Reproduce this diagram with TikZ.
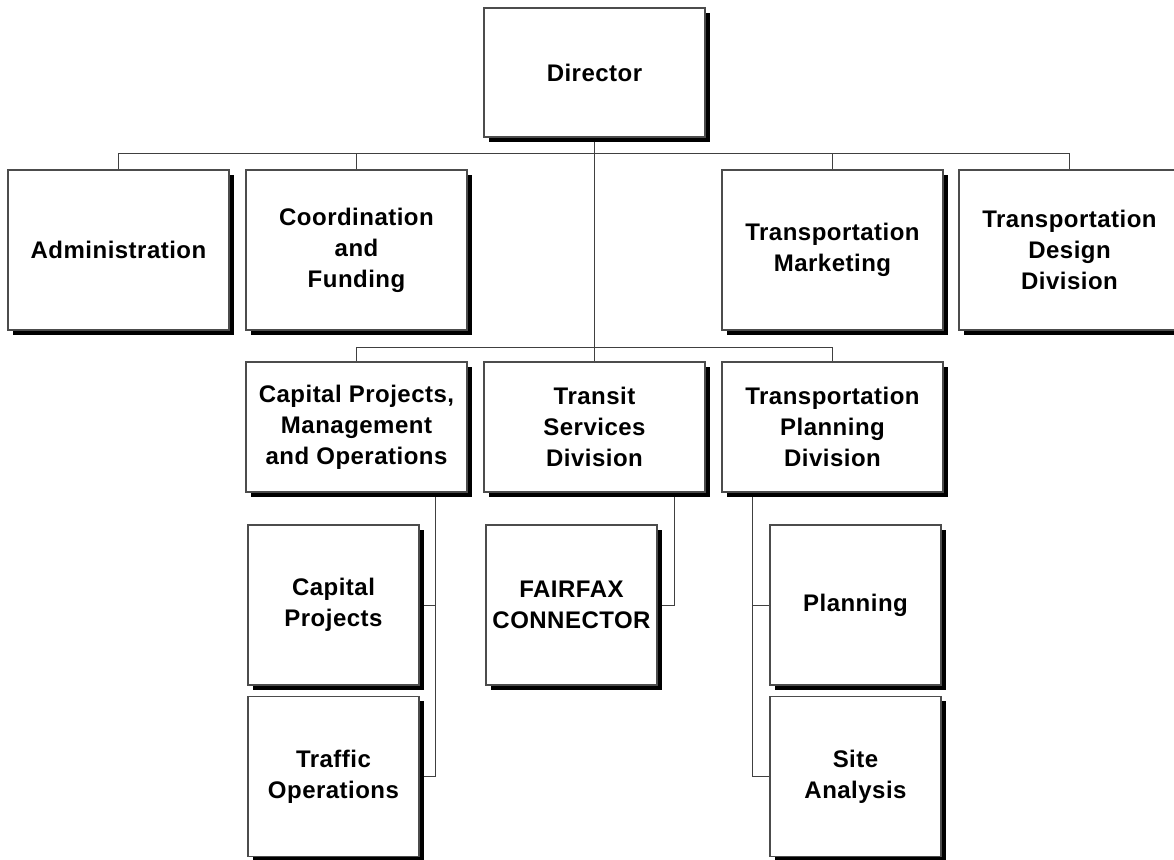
\documentclass[tikz,border=0pt]{standalone}
\usepackage{fontspec}
\setmainfont[LetterSpace=2]{Liberation Sans}
\usetikzlibrary{shadows,backgrounds}

\begin{document}
\begin{tikzpicture}[x=0.5pt,y=-0.5pt,
  box/.style={draw=black!70,fill=white,line width=0.6pt,align=center,
    font=\fontsize{12}{15.5}\selectfont\bfseries,inner sep=2pt,
    minimum width=110.5pt,
    drop shadow={shadow xshift=2.4pt,shadow yshift=-2.4pt,fill=black,opacity=1}},
  sub/.style={box,minimum width=85.5pt,minimum height=80pt},
  link/.style={draw=black!75,line width=0.5pt}]
\useasboundingbox (0,0) rectangle (1174,859);
% top
\node[box,minimum height=64.5pt] (dir) at (594.5,72.5) {Director};
% first row
\node[box,minimum height=80pt] (adm) at (118.5,250) {Administration};
\node[box,minimum height=80pt] (cf) at (356.5,250) {Coordination\\and\\Funding};
\node[box,minimum height=80pt] (tm) at (832.5,250) {Transportation\\Marketing};
\node[box,minimum height=80pt] (tdd) at (1069.5,250) {Transportation\\Design\\Division};
% divisions
\node[box,minimum height=65pt] (cpmo) at (356.5,427) {Capital Projects,\\Management\\and Operations};
\node[box,minimum height=65pt] (tsd) at (594.5,427) {Transit\\Services\\Division};
\node[box,minimum height=65pt] (tpd) at (832.5,427) {Transportation\\Planning\\Division};
% sections
\node[sub] (cp) at (333.5,605) {Capital\\Projects};
\node[sub] (to) at (333.5,776.5) {Traffic\\Operations};
\node[sub] (ffx) at (571.5,605) {FAIRFAX\\CONNECTOR};
\node[sub] (pl) at (855.5,605) {Planning};
\node[sub] (sa) at (855.5,776.5) {Site\\Analysis};
\coordinate (top) at (594.5,153);
\coordinate (mid) at (594.5,347);
\begin{scope}[on background layer]
\draw[link] (dir) -- (mid) -- (tsd.north);
\draw[link] (adm.north) |- (top) -| (tdd.north);
\draw[link] (cf.north) -- (cf.north |- top);
\draw[link] (tm.north) -- (tm.north |- top);
\draw[link] (cpmo.north) |- (mid) -| (tpd.north);
\draw[link] (to.east) -- ++(8pt,0) coordinate (cpbus) -- (cpbus |- cpmo.south);
\draw[link] (cp.east) -- (cp.east -| cpbus);
\draw[link] (ffx.east) -- ++(8.5pt,0) coordinate (fbus) -- (fbus |- tsd.south);
\draw[link] (sa.west) -- ++(-8.5pt,0) coordinate (pbus) -- (pbus |- tpd.south);
\draw[link] (pl.west) -- (pl.west -| pbus);
\end{scope}
\end{tikzpicture}
\end{document}
